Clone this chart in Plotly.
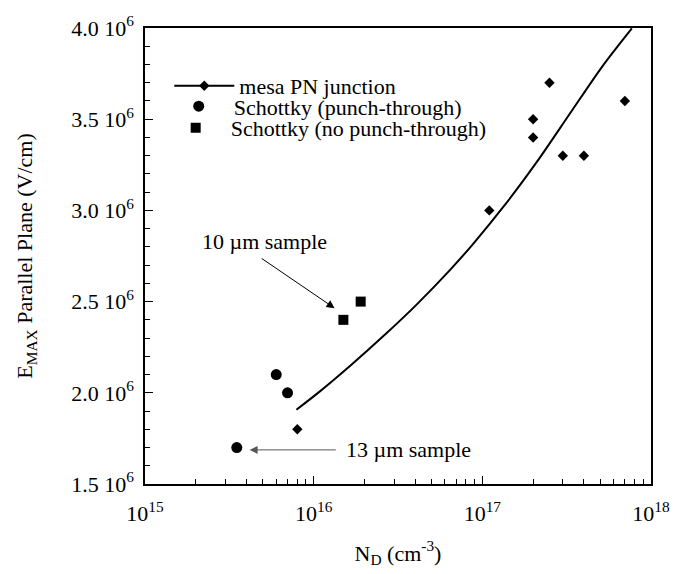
import numpy as np
import plotly.graph_objects as go

# --- data ---
mesa_nd = [8e15, 1.1e17, 2e17, 2e17, 2.5e17, 3e17, 4e17, 7e17]
mesa_e = [1.8e6, 3.0e6, 3.5e6, 3.4e6, 3.7e6, 3.3e6, 3.3e6, 3.6e6]

pt_nd = [3.5e15, 6e15, 7e15]
pt_e = [1.7e6, 2.1e6, 2.0e6]

npt_nd = [1.5e16, 1.9e16]
npt_e = [2.4e6, 2.5e6]

curve_nd = [7.9e15, 1.08e16, 1.68e16, 2.62e16, 4.09e16, 6.38e16, 8.7e16,
            1.36e17, 2.12e17, 3.30e17, 5.15e17, 7.7e17]
curve_e = [1.907e6, 2.005e6, 2.155e6, 2.315e6, 2.485e6, 2.670e6, 2.810e6,
           3.030e6, 3.270e6, 3.530e6, 3.790e6, 3.998e6]

y_tickvals = [1.5e6, 2.0e6, 2.5e6, 3.0e6, 3.5e6, 4.0e6]
y_ticktext = ["1.5 10<sup>6</sup>", "2.0 10<sup>6</sup>", "2.5 10<sup>6</sup>",
              "3.0 10<sup>6</sup>", "3.5 10<sup>6</sup>", "4.0 10<sup>6</sup>"]
x_tickvals = [1e15, 1e16, 1e17, 1e18]
x_ticktext = ["10<sup>15</sup>", "10<sup>16</sup>", "10<sup>17</sup>", "10<sup>18</sup>"]

# annotation anchors (data coords)
ann10_head = (1.33e16, 2.464e6)
ann10_tail = (4.82e15, 2.742e6)
ann10_text = (5.1e15, 2.83e6)
ann13_head = (4.17e15, 1.687e6)
ann13_tail = (1.38e16, 1.687e6)
ann13_text = (1.52e16, 1.687e6)

FONT = "Liberation Serif"

# diamonds, separated by gaps so the legend shows line+marker but no connecting lines
mx, my = [], []
for a, b in zip(mesa_nd, mesa_e):
    mx += [a, None]
    my += [b, None]

fig = go.Figure()
fig.add_trace(go.Scatter(x=curve_nd, y=curve_e, mode="lines", line=dict(color="black", width=2, shape="spline", smoothing=0.8),
                         showlegend=False, hoverinfo="skip"))
fig.add_trace(go.Scatter(x=mx, y=my, mode="lines+markers", name="mesa PN junction",
                         connectgaps=False, legend="legend",
                         line=dict(color="black", width=2),
                         marker=dict(symbol="diamond", size=8, color="black")))
fig.add_trace(go.Scatter(x=pt_nd, y=pt_e, mode="markers", name="Schottky (punch-through)",
                         legend="legend2",
                         marker=dict(symbol="circle", size=11, color="black")))
fig.add_trace(go.Scatter(x=npt_nd, y=npt_e, mode="markers", name="Schottky (no punch-through)",
                         legend="legend3",
                         marker=dict(symbol="square", size=10, color="black")))

lx = np.log10
fig.add_annotation(x=lx(ann10_head[0]), y=ann10_head[1], ax=lx(ann10_tail[0]), ay=ann10_tail[1],
                   axref="x", ayref="y", xref="x", yref="y", text="", showarrow=True,
                   arrowhead=2, arrowsize=1.6, arrowwidth=1, arrowcolor="black")
fig.add_annotation(x=lx(ann10_text[0]), y=ann10_text[1], text="10 \u00b5m sample", showarrow=False,
                   font=dict(family=FONT, size=22, color="black"))
fig.add_annotation(x=lx(ann13_head[0]), y=ann13_head[1], ax=lx(ann13_tail[0]), ay=ann13_tail[1],
                   axref="x", ayref="y", xref="x", yref="y", text="", showarrow=True,
                   arrowhead=2, arrowsize=1.6, arrowwidth=1, arrowcolor="#555555")
fig.add_annotation(x=lx(ann13_text[0]), y=ann13_text[1], text="13 \u00b5m sample", showarrow=False,
                   xanchor="left",
                   font=dict(family=FONT, size=22, color="black"))

leg_common = dict(xanchor="left", yanchor="middle", bgcolor="rgba(0,0,0,0)",
                  font=dict(family=FONT, size=22, color="black"), itemwidth=60, borderwidth=0)
fig.update_layout(
    width=682, height=574,
    margin=dict(l=145, r=19, t=23, b=84),
    paper_bgcolor="white", plot_bgcolor="white",
    font=dict(family=FONT, size=22, color="black"),
    legend=dict(x=0.048, y=0.873, **leg_common),
    legend2=dict(x=0.037, y=0.828, **leg_common),
    legend3=dict(x=0.031, y=0.781, **leg_common),
    showlegend=True,
)
fig.update_xaxes(type="log", range=[15, 18], showline=True, linecolor="black", linewidth=1.5, mirror=True,
                 showgrid=False, zeroline=False, ticks="inside", ticklen=8, tickwidth=1, tickcolor="black",
                 tickvals=x_tickvals, ticktext=x_ticktext, tickfont=dict(family=FONT, size=22),
                 ticklabelstandoff=9,
                 minor=dict(ticks="inside", ticklen=5, tickwidth=1, tickcolor="black", dtick="D1", showgrid=False),
                 title=dict(text="N<sub>D</sub> (cm<sup>-3</sup>)", font=dict(family=FONT, size=22), standoff=20))
fig.update_yaxes(range=[1.5e6, 4.0e6], showline=True, linecolor="black", linewidth=1.5, mirror=True,
                 showgrid=False, zeroline=False, ticks="inside", ticklen=8, tickwidth=1, tickcolor="black",
                 tickvals=y_tickvals, ticktext=y_ticktext, tickfont=dict(family=FONT, size=22),
                 ticklabelstandoff=5,
                 minor=dict(ticks="inside", ticklen=5, tickwidth=1, tickcolor="black", dtick=1e5, showgrid=False),
                 title=dict(text="E<sub>MAX</sub> Parallel Plane (V/cm)", font=dict(family=FONT, size=22), standoff=32))

fig.write_html("out.html")
